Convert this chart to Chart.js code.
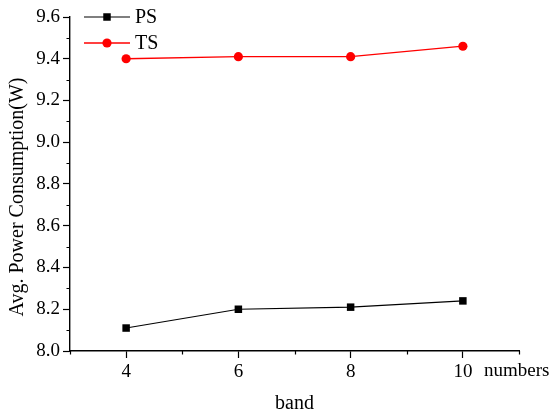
<!DOCTYPE html>
<html>
<head>
<meta charset="utf-8">
<script src="https://cdn.jsdelivr.net/npm/chart.js@4/dist/chart.umd.min.js"></script>
<style>
    html, body { margin: 0; padding: 0; background: #fff; }
    #wrap { width: 553px; height: 415px; }
</style>
</head>
<body>
<div id="wrap"><canvas id="chart" width="553" height="415"></canvas></div>
<script>
// ข้อมูลจากกราฟ
const bandNumbers = [4, 6, 8, 10];
const psValues = [8.11, 8.20, 8.21, 8.24];
const tsValues = [9.40, 9.41, 9.41, 9.46];
const xTicks = [4, 6, 8, 10];
const xMinorTicks = [3, 5, 7, 9, 11];
const yTicks = [8.0, 8.2, 8.4, 8.6, 8.8, 9.0, 9.2, 9.4, 9.6];
const yMinorTicks = [8.1, 8.3, 8.5, 8.7, 8.9, 9.1, 9.3, 9.5];

const FONT = "'Liberation Serif', 'Times New Roman', serif";

// วาด minor ticks, ชื่อแกน และ legend เอง
const extrasPlugin = {
    id: 'extras',
    afterDraw(chart) {
        const ctx = chart.ctx;
        const xs = chart.scales.x;
        const ys = chart.scales.y;
        const area = chart.chartArea;
        ctx.save();
        ctx.strokeStyle = '#000';
        ctx.lineWidth = 1.2;
        ctx.beginPath();
        xMinorTicks.forEach(v => {
            const px = Math.round(xs.getPixelForValue(v)) + 0.5;
            ctx.moveTo(px, area.bottom);
            ctx.lineTo(px, area.bottom + 3.5);
        });
        yMinorTicks.forEach(v => {
            const py = Math.round(ys.getPixelForValue(v)) + 0.5;
            ctx.moveTo(area.left, py);
            ctx.lineTo(area.left - 3.5, py);
        });
        ctx.stroke();

        // ชื่อแกน
        ctx.fillStyle = '#000';
        ctx.font = '20px ' + FONT;
        ctx.textAlign = 'center';
        ctx.textBaseline = 'middle';
        ctx.fillText('band', (area.left + area.right) / 2, 404);
        ctx.textAlign = 'left';
        ctx.font = '19px ' + FONT;
        ctx.fillText('numbers', 484, 371);

        ctx.save();
        ctx.translate(18, 197);
        ctx.rotate(-Math.PI / 2);
        ctx.textAlign = 'center';
        ctx.font = '20px ' + FONT;
        ctx.fillText('Avg. Power Consumption(W)', 0, 0);
        ctx.restore();

        // legend: เส้น + marker + ข้อความ
        chart.data.datasets.forEach((ds, i) => {
            const y = 17 + i * 26;
            ctx.strokeStyle = ds.borderColor;
            ctx.lineWidth = ds.borderWidth;
            ctx.beginPath();
            ctx.moveTo(84, y);
            ctx.lineTo(130, y);
            ctx.stroke();
            ctx.fillStyle = ds.pointBackgroundColor;
            ctx.beginPath();
            if (ds.pointStyle === 'rect') {
                const s = Math.SQRT1_2 * ds.pointRadius;
                ctx.rect(107 - s, y - s, 2 * s, 2 * s);
            } else {
                ctx.arc(107, y, ds.pointRadius, 0, Math.PI * 2);
            }
            ctx.fill();
            ctx.fillStyle = '#000';
            ctx.font = '20px ' + FONT;
            ctx.textAlign = 'left';
            ctx.textBaseline = 'middle';
            ctx.fillText(ds.label, 135, y + 1);
        });
        ctx.restore();
    }
};

new Chart(document.getElementById('chart'), {
    type: 'line',
    data: {
        datasets: [
            {
                label: 'PS',
                data: bandNumbers.map((x, i) => ({ x: x, y: psValues[i] })),
                borderColor: '#000000',
                borderWidth: 1.1,
                pointStyle: 'rect',
                pointRadius: 5.3,
                pointBackgroundColor: '#000000',
                pointBorderWidth: 0,
                tension: 0
            },
            {
                label: 'TS',
                data: bandNumbers.map((x, i) => ({ x: x, y: tsValues[i] })),
                borderColor: '#ff0000',
                borderWidth: 1.3,
                pointStyle: 'circle',
                pointRadius: 4.6,
                pointBackgroundColor: '#ff0000',
                pointBorderWidth: 0,
                tension: 0
            }
        ]
    },
    options: {
        responsive: false,
        animation: false,
        layout: { padding: { top: 17, right: 34, left: 0, bottom: 0 } },
        plugins: { legend: { display: false }, tooltip: { enabled: false } },
        scales: {
            x: {
                type: 'linear',
                min: 3,
                max: 11,
                afterFit(scale) { scale.height = 64; },
                afterBuildTicks(scale) { scale.ticks = xTicks.map(v => ({ value: v })); },
                grid: { drawOnChartArea: false, tickLength: 7, tickColor: '#000', tickWidth: 1.2 },
                border: { color: '#000', width: 1.4 },
                ticks: {
                    color: '#000',
                    padding: 3,
                    maxRotation: 0,
                    font: { family: FONT, size: 19 },
                    callback: v => String(v)
                }
            },
            y: {
                type: 'linear',
                min: 8.0,
                max: 9.6,
                afterFit(scale) { scale.width = 70; },
                afterBuildTicks(scale) { scale.ticks = yTicks.map(v => ({ value: v })); },
                grid: { drawOnChartArea: false, tickLength: 7, tickColor: '#000', tickWidth: 1.2 },
                border: { color: '#000', width: 1.4 },
                ticks: {
                    color: '#000',
                    padding: 3,
                    font: { family: FONT, size: 19 },
                    callback: v => v.toFixed(1)
                }
            }
        }
    },
    plugins: [extrasPlugin]
});
</script>
</body>
</html>
